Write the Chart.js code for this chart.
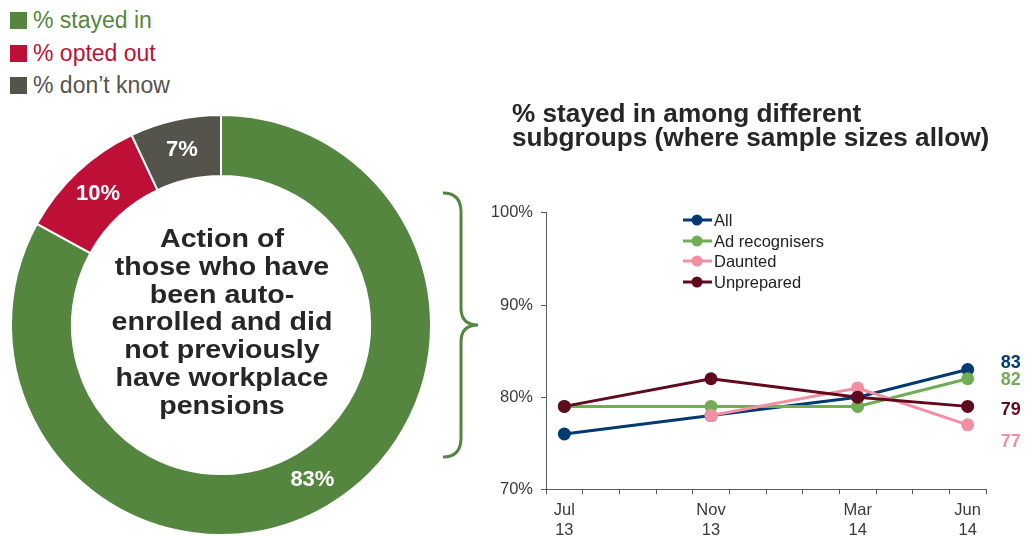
<!DOCTYPE html>
<html>
<head>
<meta charset="utf-8">
<script src="https://cdn.jsdelivr.net/npm/chart.js@4.4.1/dist/chart.umd.min.js"></script>
<style>
  html, body { margin:0; padding:0; background:#fff; }
  body { width:1025px; height:536px; position:relative; overflow:hidden; font-family:"Liberation Sans", Arial, sans-serif; }
  .abs { position:absolute; }
  .lg-row { position:absolute; left:10px; height:20px; font-size:23px; line-height:20px; white-space:nowrap; }
  .lg-sq { position:absolute; left:0; width:17px; height:17px; }
  .lg-tx { position:absolute; left:23px; }
  #title { left:512px; top:100.7px; font-size:26.2px; font-weight:bold; line-height:24px; color:#262626; white-space:nowrap; }
  #center { left:72px; top:225px; width:300px; text-align:center; font-size:26px; font-weight:bold; line-height:27.8px; color:#262626; transform:scaleX(1.1); transform-origin:150px 0; }
  .ll-row { position:absolute; left:683px; height:20px; font-size:16.5px; line-height:20px; color:#222; white-space:nowrap; }
  .ll-row svg { position:absolute; left:0; top:0; }
  .ll-row span { position:absolute; left:31px; top:0; }
</style>
</head>
<body>
<div id="legendLeft"></div>
<div id="donutWrap" class="abs" style="left:10px; top:114px; width:422px; height:422px;"><canvas id="donut"></canvas></div>
<div id="center" class="abs">Action of<br>those who have<br>been auto-<br>enrolled and did<br>not previously<br>have workplace<br>pensions</div>
<svg class="abs" style="left:0;top:0" width="1025" height="536">
  <path d="M443,193 C455,193 461,199 461,212 L461,308 C461,319 466,325 478,325 C466,325 461,331 461,342 L461,438 C461,451 455,457 443,457" fill="none" stroke="#558640" stroke-width="3"/>
</svg>
<div id="title" class="abs">% stayed in among different<br>subgroups (where sample sizes allow)</div>
<div id="lineWrap" class="abs" style="left:480px; top:195px; width:545px; height:341px;"><canvas id="line"></canvas></div>
<div id="legendLine"></div>
<script>
// ---- Doughnut data ----
const donutLabels = ['% stayed in', '% opted out', '% don\u2019t know'];
const donutValues = [83, 10, 7];
const donutColors = ['#558640', '#BE1037', '#55544C'];

// ---- Line chart data ----
const months = ['Jul 13','Aug 13','Sep 13','Oct 13','Nov 13','Dec 13','Jan 14','Feb 14','Mar 14','Apr 14','May 14','Jun 14'];
const tickLabels = [['Jul','13'],'','','',['Nov','13'],'','','',['Mar','14'],'','',['Jun','14']];
const seriesNames = ['All', 'Ad recognisers', 'Daunted', 'Unprepared'];
const allValues        = [76, null, null, null, 78, null, null, null, 80, null, null, 83];
const adRecogValues    = [79, null, null, null, 79, null, null, null, 79, null, null, 82];
const dauntedValues    = [null, null, null, null, 78, null, null, null, 81, null, null, 77];
const unpreparedValues = [79, null, null, null, 82, null, null, null, 80, null, null, 79];
const seriesColors = ['#003A70', '#70AD54', '#F38FA3', '#600A1E'];
const yTicks = [70, 80, 90, 100];

// ---- Left legend (HTML) ----
const ll = document.getElementById('legendLeft');
donutLabels.forEach((t, i) => {
  const baseline = 29.3 + i * 32.5;
  const row = document.createElement('div');
  row.className = 'lg-row';
  row.style.top = (baseline - 17) + 'px';
  row.style.color = donutColors[i];
  row.innerHTML = '<div class="lg-sq" style="top:0;background:' + donutColors[i] + '"></div><div class="lg-tx" style="top:-2px">' + t + '</div>';
  ll.appendChild(row);
});

// ---- Line legend (HTML) ----
const lgl = document.getElementById('legendLine');
seriesNames.forEach((t, i) => {
  const cy = 220 + i * 20.7;
  const row = document.createElement('div');
  row.className = 'll-row';
  row.style.top = (cy - 10) + 'px';
  row.innerHTML = '<svg width="30" height="20"><line x1="0" y1="10" x2="29" y2="10" stroke="' + seriesColors[i] + '" stroke-width="3"/><circle cx="14" cy="10" r="5.5" fill="' + seriesColors[i] + '"/></svg><span>' + t + '</span>';
  lgl.appendChild(row);
});

// ---- Doughnut ----
const donutLabelPlugin = {
  id: 'donutLabels',
  afterDatasetsDraw(chart) {
    const ctx = chart.ctx;
    const meta = chart.getDatasetMeta(0);
    ctx.save();
    ctx.fillStyle = '#ffffff';
    ctx.font = 'bold 22px "Liberation Sans", Arial, sans-serif';
    ctx.textAlign = 'center';
    ctx.textBaseline = 'middle';
    meta.data.forEach((arc, i) => {
      const p = arc.tooltipPosition();
      ctx.fillText(donutValues[i] + '%', p.x, p.y);
    });
    ctx.restore();
  }
};

new Chart(document.getElementById('donut'), {
  type: 'doughnut',
  data: {
    labels: donutLabels,
    datasets: [{
      data: donutValues,
      backgroundColor: donutColors,
      borderColor: '#ffffff',
      borderWidth: 2,
      hoverOffset: 0
    }]
  },
  options: {
    responsive: true,
    maintainAspectRatio: false,
    animation: false,
    cutout: '71%',
    layout: { padding: 0 },
    plugins: { legend: { display: false }, tooltip: { enabled: false } },
    events: []
  },
  plugins: [donutLabelPlugin]
});

// ---- Line chart ----
const endLabelOffsets = [-6, 1, 17, 4];
const endLabelPlugin = {
  id: 'endLabels',
  afterDatasetsDraw(chart) {
    const ctx = chart.ctx;
    ctx.save();
    ctx.font = 'bold 18px "Liberation Sans", Arial, sans-serif';
    ctx.textAlign = 'left';
    ctx.textBaseline = 'middle';
    chart.data.datasets.forEach((ds, i) => {
      const meta = chart.getDatasetMeta(i);
      const last = ds.data.length - 1;
      const pt = meta.data[last];
      if (!pt || ds.data[last] == null) return;
      ctx.fillStyle = seriesColors[i];
      ctx.fillText(String(ds.data[last]), pt.x + 33, pt.y + endLabelOffsets[i]);
    });
    ctx.restore();
  }
};

const seriesData = [allValues, adRecogValues, dauntedValues, unpreparedValues];
const drawOrder = [4, 3, 2, 1];
const axisColor = '#5a5a5a';
const tickFont = { family: '"Liberation Sans", Arial, sans-serif', size: 16.5 };

new Chart(document.getElementById('line'), {
  type: 'line',
  data: {
    labels: months,
    datasets: seriesNames.map((n, i) => ({
      label: n,
      data: seriesData[i],
      borderColor: seriesColors[i],
      backgroundColor: seriesColors[i],
      pointBackgroundColor: seriesColors[i],
      pointBorderColor: seriesColors[i],
      pointBorderWidth: 0,
      pointRadius: 6.5,
      pointHoverRadius: 6.5,
      borderWidth: 3,
      spanGaps: true,
      tension: 0,
      order: drawOrder[i]
    }))
  },
  options: {
    responsive: true,
    maintainAspectRatio: false,
    animation: false,
    events: [],
    layout: { padding: { top: 15.7, right: 39, left: 0, bottom: 0 } },
    plugins: { legend: { display: false }, tooltip: { enabled: false } },
    scales: {
      x: {
        type: 'category',
        offset: true,
        grid: { offset: true, drawOnChartArea: false, drawTicks: true, tickLength: 5, color: axisColor, lineWidth: 1 },
        border: { display: true, color: axisColor, width: 1 },
        ticks: {
          autoSkip: false, maxRotation: 0, minRotation: 0, padding: 6,
          color: '#3a3a3a', font: tickFont,
          callback: (v, i) => tickLabels[i]
        },
        afterFit: (s) => { s.height = 46.7; }
      },
      y: {
        min: 70, max: 100,
        afterBuildTicks: (s) => { s.ticks = yTicks.map(v => ({ value: v })); },
        grid: { drawOnChartArea: false, drawTicks: true, tickLength: 5, color: axisColor, lineWidth: 1 },
        border: { display: true, color: axisColor, width: 1 },
        ticks: { padding: 8, color: '#3a3a3a', font: tickFont, callback: (v) => v + '%' },
        afterFit: (s) => { s.width = 66; }
      }
    }
  },
  plugins: [endLabelPlugin]
});
</script>
</body>
</html>
